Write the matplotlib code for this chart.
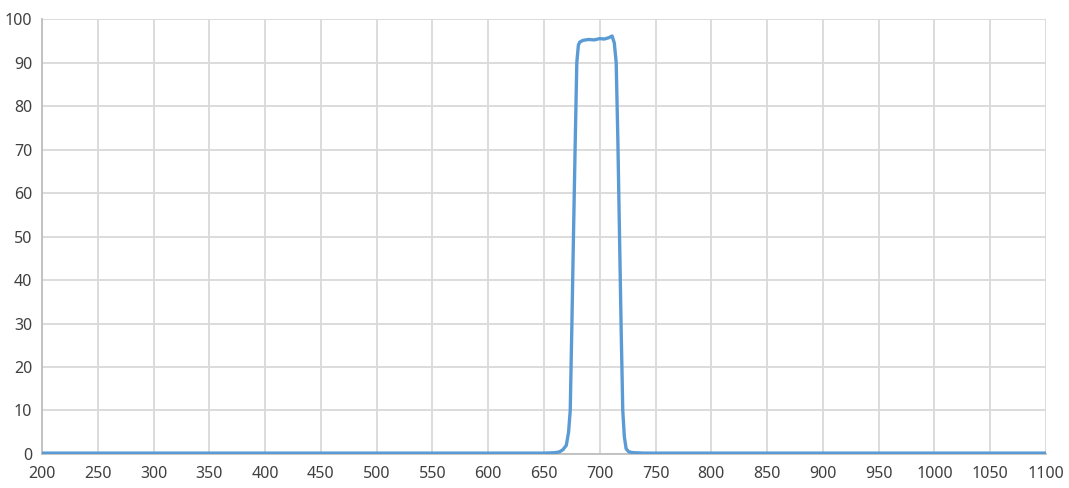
import numpy as np
import matplotlib
matplotlib.use("Agg")
import matplotlib.pyplot as plt

plt.rcParams['font.family'] = ['Noto Sans', 'DejaVu Sans']

# transmission curve (wavelength nm, T %)
wavelength = [200, 400, 650, 660, 664, 667, 670, 672, 673.5, 675, 676.4, 678,
              679.4, 680.8, 682, 685, 690, 695, 700, 704, 708, 711, 713,
              714.7, 716.2, 717.7, 719.2, 720.6, 722, 723.6, 726, 730, 740,
              800, 1000, 1100]
transmission = [0.2, 0.2, 0.2, 0.3, 0.5, 1.0, 2.0, 5.0, 10, 30, 50, 72,
                90, 94, 94.7, 95.1, 95.3, 95.2, 95.5, 95.4, 95.7, 96.1, 94.5,
                90, 72, 50, 28, 10, 4.0, 1.2, 0.5, 0.3, 0.2,
                0.2, 0.2, 0.2]

x_ticks = list(range(200, 1101, 50))
y_ticks = list(range(0, 101, 10))

fig = plt.figure(figsize=(10.69, 4.88), dpi=100)
ax = fig.add_axes([0.0393, 0.0697, 0.9392, 0.8913])

ax.plot(wavelength, transmission, color='#5b9bd5', linewidth=2.4,
        solid_joinstyle='round', zorder=3)

ax.set_xlim(200, 1100)
ax.set_ylim(0, 100)
ax.set_xticks(x_ticks)
ax.set_yticks(y_ticks)
ax.grid(True, color='#d9d9d9', linewidth=1.3)
ax.set_axisbelow(True)
ax.tick_params(length=0, labelsize=11.5, labelcolor='#404040')
ax.tick_params(axis='x', pad=9)
ax.tick_params(axis='y', pad=7)
for side in ['top', 'right']:
    ax.spines[side].set_visible(False)
ax.spines['left'].set_color('#bfbfbf')
ax.spines['left'].set_linewidth(1.3)
ax.spines['bottom'].set_color('#bfbfbf')
ax.spines['bottom'].set_linewidth(1.3)

fig.savefig('out.png', dpi=100)
